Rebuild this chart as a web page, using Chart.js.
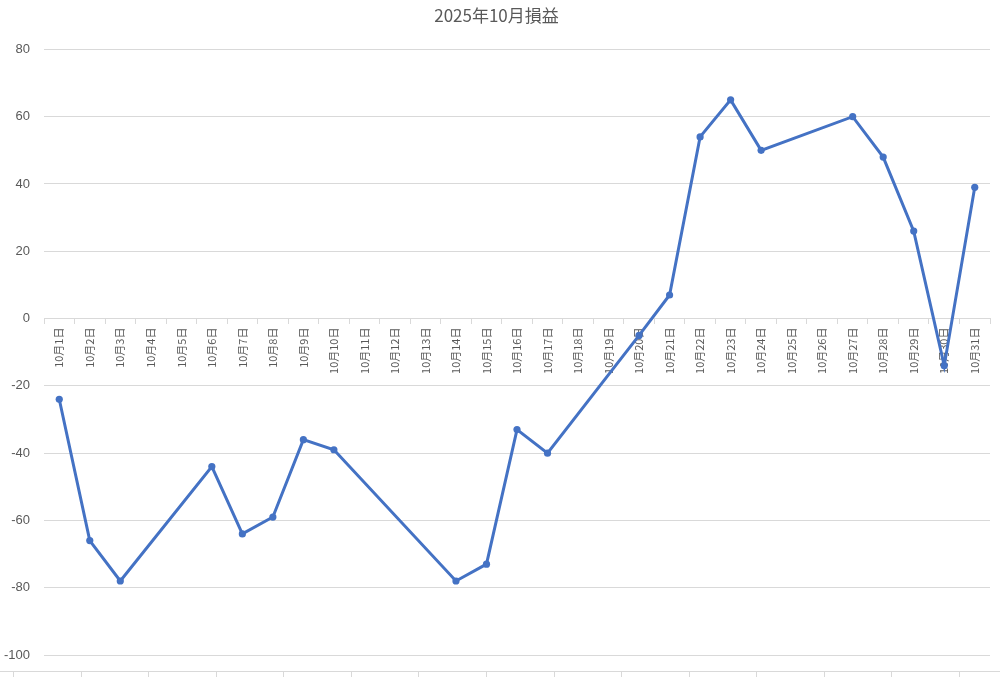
<!DOCTYPE html>
<html>
<head>
<meta charset="utf-8">
<script src="https://cdn.jsdelivr.net/npm/chart.js@4/dist/chart.umd.min.js"></script>
<style>
html,body{margin:0;padding:0;background:#fff;}
#wrap{width:1000px;height:677px;position:relative;}
</style>
</head>
<body>
<div id="wrap"><canvas id="c" width="1000" height="677"></canvas></div>
<script>
const titleText = '2025年10月損益';
const categories = ['10月1日','10月2日','10月3日','10月4日','10月5日','10月6日','10月7日','10月8日','10月9日','10月10日',
  '10月11日','10月12日','10月13日','10月14日','10月15日','10月16日','10月17日','10月18日','10月19日','10月20日',
  '10月21日','10月22日','10月23日','10月24日','10月25日','10月26日','10月27日','10月28日','10月29日','10月30日','10月31日'];
const profit = [-24,-66,-78,null,null,-44,-64,-59,-36,-39,
  null,null,null,-78,-73,-33,-40,null,null,-5,
  7,54,65,50,null,null,60,48,26,-14,39];
const yMin = -100, yMax = 80, yStep = 20;

const bottomAxisDeco = {
  id: 'bottomAxisDeco',
  afterDraw(chart) {
    const ctx = chart.ctx;
    ctx.save();
    ctx.strokeStyle = '#d9d9d9';
    ctx.lineWidth = 1;
    ctx.beginPath();
    ctx.moveTo(0, 671.5); ctx.lineTo(1000, 671.5);
    for (let k = 0; k < 15; k++) {
      const x = Math.round(13 + k * 67.57) + 0.5;
      ctx.moveTo(x, 671.5); ctx.lineTo(x, 677);
    }
    ctx.stroke();
    ctx.restore();
  }
};

new Chart(document.getElementById('c'), {
  type: 'line',
  data: {
    labels: categories,
    datasets: [{
      data: profit,
      borderColor: '#4472C4',
      backgroundColor: '#4472C4',
      borderWidth: 3,
      pointRadius: 3.6,
      pointBorderWidth: 0,
      pointHoverRadius: 3.6,
      spanGaps: true,
      tension: 0
    }]
  },
  options: {
    responsive: false,
    animation: false,
    devicePixelRatio: 1,
    layout: { padding: { left: 3, right: 10, top: 0, bottom: 22 } },
    plugins: {
      legend: { display: false },
      tooltip: { enabled: false },
      title: {
        display: true,
        text: titleText,
        color: '#595959',
        font: { family: '"Noto Sans CJK JP", "Noto Sans", sans-serif', size: 17, weight: 'normal' },
        padding: { top: 5, bottom: 24 }
      }
    },
    scales: {
      x: {
        type: 'category',
        position: { y: 0 },
        offset: true,
        grid: { display: true, drawOnChartArea: false, drawTicks: true, tickLength: 5, offset: true, color: '#d9d9d9' },
        border: { display: true, color: '#d9d9d9', width: 1 },
        ticks: {
          autoSkip: false,
          minRotation: 90,
          maxRotation: 90,
          padding: 4,
          color: '#595959',
          font: { family: '"Noto Sans CJK JP", sans-serif', size: 11 }
        }
      },
      y: {
        min: yMin,
        max: yMax,
        afterFit(axis) { axis.width = 41; },
        ticks: {
          stepSize: yStep,
          padding: 14,
          color: '#595959',
          font: { family: '"Liberation Sans", Arial, sans-serif', size: 13 }
        },
        grid: { color: '#d9d9d9', drawTicks: false, lineWidth: 1 },
        border: { display: false }
      }
    }
  },
  plugins: [bottomAxisDeco]
});
</script>
</body>
</html>
